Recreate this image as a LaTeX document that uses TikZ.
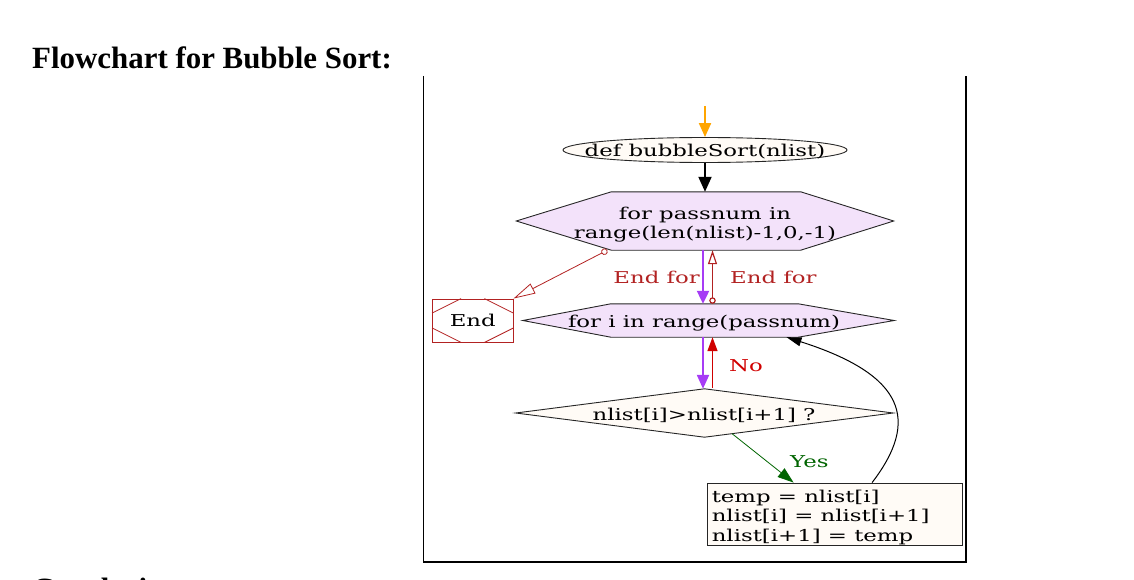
\documentclass[tikz,border=0pt]{standalone}
\usepackage{fontspec}
\setmainfont{Liberation Serif}
\newfontfamily\nf[FakeStretch=1.4]{DejaVu Serif}
\usetikzlibrary{arrows.meta,shapes.geometric,calc}
\pgfdeclarelayer{bg}
\pgfsetlayers{bg,main}
\definecolor{hexfill}{HTML}{F3E2FA}
\definecolor{cream}{HTML}{FFFBF6}
\definecolor{myorange}{HTML}{FFA500}
\definecolor{mypurple}{HTML}{A63CF5}
\definecolor{endred}{HTML}{B22222}
\definecolor{nored}{HTML}{D00000}
\definecolor{yesgreen}{HTML}{006400}
\tikzset{
  nodetext/.style={font=\nf\fontsize{16.3}{19.5}\selectfont, inner sep=0pt, align=center},
  lbl/.style={font=\nf\fontsize{16.3}{19.5}\selectfont, inner sep=0pt},
  heading/.style={font=\bfseries\fontsize{30.9}{36}\selectfont, inner sep=0pt, anchor=base west},
  shapebox/.style={inner sep=0pt, draw=none},
  outline/.style={draw=black!85, line width=0.9pt},
}
\begin{document}
\begin{tikzpicture}[x=1pt,y=-1pt]
\useasboundingbox (0,0) rectangle (1134,580);
\clip (0,0) rectangle (1134,580);

% headings
\node[heading] (title) at (32,69) {Flowchart for Bubble Sort:};
\node[heading] (concl) at (32,599) {Conclusion:};

% frame
\draw[line width=1pt] (423,76) -- (423,562.5);
\draw[line width=2pt] (423,562) -- (966,562) -- (966,76);

% start ellipse
\node[ellipse, outline, fill=cream, minimum width=284, minimum height=25, inner sep=0pt] (ell) at (705,150) {};
\node[nodetext] (elltxt) at ([yshift=-1.5]ell.center) {def bubbleSort(nlist)};

% outer for hexagon
\node[shapebox, minimum width=377, minimum height=58] (h1) at (705,221) {};
\node[nodetext] (h1txt) at ([yshift=-3.5]h1.center) {for passnum in\\range(len(nlist)-1,0,-1)};

% inner for hexagon
\node[shapebox, minimum width=371, minimum height=33] (h2) at (708.5,320.5) {};
\node[nodetext] (h2txt) at ([xshift=-4.5,yshift=-2.5]h2.center) {for i in range(passnum)};

% End box
\node[draw=endred, line width=0.9pt, minimum width=80.5, minimum height=43, nodetext] (endn) at (472.75,320.5) {End};
\draw[endred, line width=0.8pt] ([xshift=29]endn.north west) -- ([yshift=-14.5]endn.north west);
\draw[endred, line width=0.8pt] ([xshift=-29]endn.north east) -- ([yshift=-14.5]endn.north east);
\draw[endred, line width=0.8pt] ([xshift=29]endn.south west) -- ([yshift=14.5]endn.south west);
\draw[endred, line width=0.8pt] ([xshift=-29]endn.south east) -- ([yshift=14.5]endn.south east);

% decision diamond
\node[shapebox, minimum width=377, minimum height=48] (dia) at (704.5,413) {};
\node[nodetext] (diatxt) at ([xshift=-0.5,yshift=-2]dia.center) {nlist[i]>nlist[i+1] ?};

% swap box
\node[outline, fill=cream, minimum width=255, minimum height=62, inner sep=0pt] (box) at (834.5,514) {};
\node[nodetext, align=left, anchor=west] (boxtxt) at ([xshift=5,yshift=-3]box.west) {temp = nlist[i]\\nlist[i] = nlist[i+1]\\nlist[i+1] = temp};

\begin{pgfonlayer}{bg}
\draw[outline, fill=hexfill] (h1.west) -- ([xshift=95]h1.north west) -- ([xshift=-93]h1.north east) -- (h1.east) -- ([xshift=-93]h1.south east) -- ([xshift=95]h1.south west) -- cycle;
\draw[outline, fill=hexfill] (h2.west) -- ([xshift=88]h2.north west) -- ([xshift=-96]h2.north east) -- (h2.east) -- ([xshift=-96]h2.south east) -- ([xshift=88]h2.south west) -- cycle;
\draw[outline, fill=cream] (dia.north) -- (dia.east) -- (dia.south) -- (dia.west) -- cycle;
\end{pgfonlayer}

% connectors
\coordinate (start) at (705,106);
\coordinate (px) at ([xshift=-2]h1.south);
\coordinate (rx) at ([xshift=7.5]h1.south);

\draw[myorange, line width=2pt, -{Triangle[length=14pt,width=12pt]}] (start) -- (ell.north);
\draw[line width=2pt, -{Triangle[length=15pt,width=13pt]}] (ell.south) -- (h1.north);

\draw[mypurple, line width=2.2pt, -{Triangle[length=13pt,width=12pt]}] (px) -- (px |- h2.north);
\draw[endred, line width=1.2pt, {Circle[open,length=6.5pt,width=6.5pt]}-{Triangle[open,length=14pt,width=9pt]}] (rx |- h2.north) -- (rx);
\node[lbl, text=endred, anchor=west] (lblr) at (730,277) {End for};
\node[lbl, text=endred, anchor=east] (lbll) at (700,277) {End for};

\draw[endred, line width=0.8pt, {Circle[open,length=6.5pt,width=6.5pt]}-{Triangle[open,length=22pt,width=11pt]}] ([xshift=91]h1.south west) -- (endn.north east);

\draw[mypurple, line width=2.2pt, -{Triangle[length=14pt,width=12pt]}] (px |- h2.south) -- (px |- dia.north);
\draw[nored, line width=1.5pt, -{Triangle[length=14pt,width=10pt]}] ([yshift=1]rx |- dia.north) -- (rx |- h2.south);
\node[lbl, text=nored, anchor=west] (lblno) at (729,366) {No};

\draw[yesgreen, line width=0.8pt, -{Triangle[length=16pt,width=11pt]}] ($(dia.south)!0.146!(dia.east)$) -- ($(box.north west)!0.34!(box.north east)$);
\node[lbl, text=yesgreen, anchor=west] (lblyes) at (790,462) {Yes};

\draw[line width=1pt, -{Triangle[length=15pt,width=9pt]}] ($(box.north west)!0.647!(box.north east)$) .. controls (920,420) and (905,375) .. ($(h2.south west)!0.71!(h2.south east)$);
\end{tikzpicture}
\end{document}
